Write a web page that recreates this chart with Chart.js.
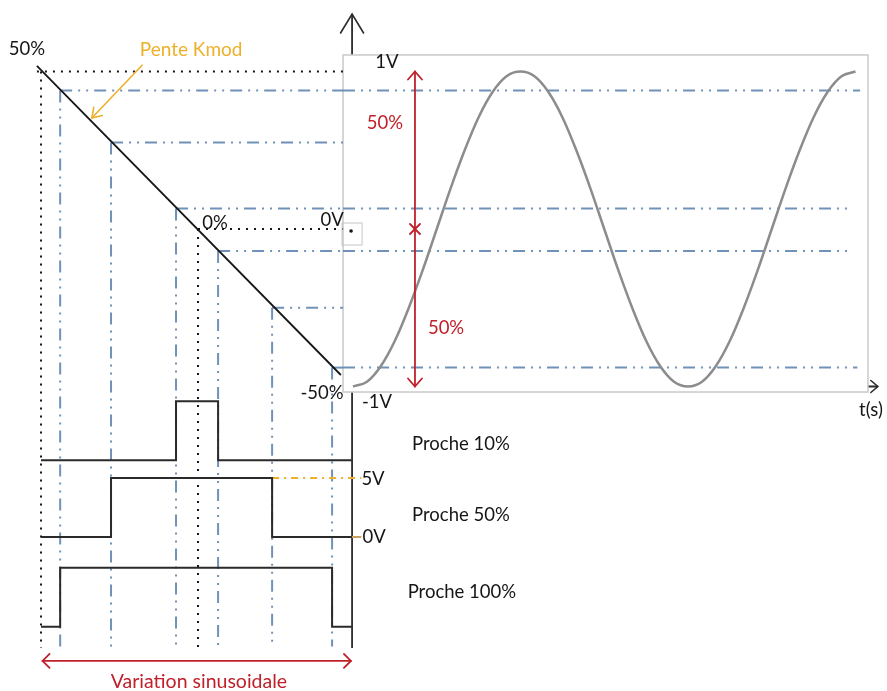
<!DOCTYPE html>
<html lang="fr">
<head>
<meta charset="UTF-8">
<title>MLI : rampe Kmod et variation sinusoïdale</title>
<script src="https://cdn.jsdelivr.net/npm/chart.js@4"></script>
<style>
  html, body { margin: 0; padding: 0; background: #fff; }
  #wrap { width: 887px; height: 691px; }
</style>
</head>
<body>
<div id="wrap"><canvas id="schema" width="887" height="691"></canvas></div>
<script>
// ---- données lues sur le schéma ----
// rampe (pente Kmod) : extrémités en % et en V
const rampePct = [51.3, -45.5];
const rampeVolt = [1.035, -0.927];

// niveaux de comparaison (V) et intersections avec la rampe (%)
const niveaux = [0.88, 0.55, 0.13, -0.14, -0.5, -0.88];
const intersPct = [43.9, 27.7, 7.0, -6.4, -23.6, -42.7];

// sinus de référence (phase en degrés, tension en V), relevé tous les 15°
const sinusDeg = [0, 15, 30, 45, 60, 75, 90, 105, 120, 135, 150, 165, 180,
  195, 210, 225, 240, 255, 270, 285, 300, 315, 330, 345, 360,
  375, 390, 405, 420, 435, 450, 465, 480, 495, 510, 525, 540];
const sinusVolt = [-1, -0.97, -0.87, -0.71, -0.5, -0.26, 0, 0.26, 0.5, 0.71, 0.87, 0.97, 1,
  0.97, 0.87, 0.71, 0.5, 0.26, 0, -0.26, -0.5, -0.71, -0.87, -0.97, -1,
  -0.97, -0.87, -0.71, -0.5, -0.26, 0, 0.26, 0.5, 0.71, 0.87, 0.97, 1];

// signaux MLI : fronts = indices dans intersPct, niveau haut 5 V
const mliNoms = ["Proche 10%", "Proche 50%", "Proche 100%"];
const mliFronts = [[2, 3], [1, 4], [0, 5]];
const mliBas = 0, mliHaut = 5;

// ---- mise en page ----
const W = 887, H = 691;
const NOIR = '#161616', ROUGE = '#c0202a', JAUNE = '#eeb02a', GRIS = '#8c8c8c';
const BLEU = 'rgba(98,134,176,0.9)';
const TIRET_POINT = [12, 6, 2, 6, 2, 6];
const POINTS = [2, 6];
const POLICE = "Lato, 'Open Sans', sans-serif";

// calage (valeur, pixel) de chaque axe
const calK = [[50, 41], [0, 198]];      // % Kmod
const calT = [[0, 353], [360, 688]];    // phase (deg)
const calV = [[1, 71.5], [-1, 386.5]];  // tension sinus (V)
const calP = [[0, 537], [5, 478]];      // tension MLI (V)

const cadre = { deg: [-10.7, 553.4], volt: [1.105, -1.035] };
const bordCadrePct = -46.2;
const basRappel = -2.65;
const finNiveauDeg = [545, null, 534, 532, null, 542];
const mliDecalage = [6.5, 0, -7.6];
const mliDebut = 50, mliFin = -49;
const axeV = { deg: -1, haut: 1.365, bas: -2.66 };
const axeH = { volt: -1, de: -10.7, a: 564 };

const textes = [
  { t: '50%', x: ['xk', 54.5], y: ['yv', 1.14], c: NOIR },
  { t: 'Pente Kmod', x: ['xk', 2.2], y: ['yv', 1.14], c: JAUNE, s: 19 },
  { t: '0%', x: ['xk', -5.4], y: ['yv', 0.04], c: NOIR },
  { t: '0V', x: ['xk', -42.7], y: ['yv', 0.06], c: NOIR },
  { t: '-50%', x: ['xk', -39.5], y: ['yv', -1.04], c: NOIR },
  { t: '1V', x: ['xt', 36.5], y: ['yv', 1.06], c: NOIR },
  { t: '-1V', x: ['xt', 25.8], y: ['yv', -1.10], c: NOIR },
  { t: '50%', x: ['xt', 34.4], y: ['yv', 0.67], c: ROUGE },
  { t: '50%', x: ['xt', 100], y: ['yv', -0.63], c: ROUGE },
  { t: 't(s)', x: ['xt', 556.6], y: ['yv', -1.15], c: NOIR },
  { t: mliNoms[0], x: ['xt', 116], y: ['yp', 7.9], c: NOIR },
  { t: mliNoms[1], x: ['xt', 116], y: ['yp', 1.9], c: NOIR },
  { t: mliNoms[2], x: ['xt', 117], y: ['yp', -4.7], c: NOIR },
  { t: '5V', x: ['xt', 21.5], y: ['yp', 4.9], c: NOIR },
  { t: '0V', x: ['xt', 22.6], y: ['yp', 0], c: NOIR },
  { t: 'Variation sinusoidale', x: ['xk', -0.3], y: ['yp', -12.3], c: ROUGE, s: 19.5 }
];

function axe(cal, size, isY) {
  const k = (cal[1][0] - cal[0][0]) / (cal[1][1] - cal[0][1]);
  const v0 = cal[0][0] - cal[0][1] * k;
  const v1 = cal[0][0] + (size - cal[0][1]) * k;
  return {
    type: 'linear', axis: isY ? 'y' : 'x', display: false, bounds: 'data', grace: 0,
    min: Math.min(v0, v1), max: Math.max(v0, v1),
    reverse: isY ? v1 > v0 : v1 < v0
  };
}

function trace(xAxisID, yAxisID, data, style) {
  return Object.assign({
    xAxisID, yAxisID, data, showLine: true, pointRadius: 0, pointHoverRadius: 0,
    borderWidth: 2, borderColor: NOIR, fill: false, tension: 0, order: 5
  }, style);
}

const datasets = [];

// rampe Kmod
datasets.push(trace('xk', 'yv', rampePct.map((p, i) => ({ x: p, y: rampeVolt[i] })), { borderWidth: 1.8, order: 2 }));

niveaux.forEach((v, i) => {
  const p = intersPct[i];
  // niveau vers le cadre
  datasets.push(trace('xk', 'yv', [{ x: p, y: v }, { x: bordCadrePct, y: v }], { borderColor: BLEU, borderDash: TIRET_POINT, order: 4 }));
  // rappel vertical vers les signaux
  datasets.push(trace('xk', 'yv', [{ x: p, y: v }, { x: p, y: basRappel }], { borderColor: BLEU, borderDash: TIRET_POINT, order: 4 }));
  // prolongement dans le cadre du sinus
  if (finNiveauDeg[i] !== null) {
    datasets.push(trace('xt', 'yv', [{ x: cadre.deg[0], y: v }, { x: finNiveauDeg[i], y: v }], { borderColor: BLEU, borderDash: TIRET_POINT, order: 4 }));
  }
});

// pointillés 50% / 0%
const pointille = { borderDash: POINTS, borderWidth: 2, order: 3 };
datasets.push(trace('xk', 'yv', [{ x: rampePct[0], y: 1 }, { x: bordCadrePct, y: 1 }], pointille));
datasets.push(trace('xk', 'yv', [{ x: 50, y: 1 }, { x: 50, y: axeV.bas }], pointille));
datasets.push(trace('xk', 'yv', [{ x: 0, y: 0 }, { x: bordCadrePct, y: 0 }], pointille));
datasets.push(trace('xk', 'yv', [{ x: 0, y: 0 }, { x: 0, y: axeV.bas }], pointille));

// sinus
datasets.push(trace('xt', 'yv', sinusDeg.map((d, i) => ({ x: d, y: sinusVolt[i] })), {
  borderColor: GRIS, borderWidth: 2.5, cubicInterpolationMode: 'monotone', order: 1
}));

// signaux MLI
mliFronts.forEach((f, i) => {
  const o = mliDecalage[i];
  const a = intersPct[f[0]], b = intersPct[f[1]];
  datasets.push(trace('xk', 'yp', [
    { x: mliDebut, y: o + mliBas }, { x: a, y: o + mliBas }, { x: a, y: o + mliHaut },
    { x: b, y: o + mliHaut }, { x: b, y: o + mliBas }, { x: mliFin, y: o + mliBas }
  ], { borderColor: '#2a2a2a', borderWidth: 2, order: 0 }));
});
// repères 5V / 0V
datasets.push(trace('xk', 'yp', [{ x: intersPct[4], y: mliHaut }, { x: -52, y: mliHaut }], { borderColor: JAUNE, borderDash: [7, 5, 2, 5], order: 1 }));
datasets.push(trace('xk', 'yp', [{ x: mliFin, y: mliBas }, { x: -52, y: mliBas }], { borderColor: '#c8a060', order: 1 }));

function trait(ctx, x1, y1, x2, y2) {
  ctx.beginPath(); ctx.moveTo(x1, y1); ctx.lineTo(x2, y2); ctx.stroke();
}
function tete(ctx, x1, y1, x2, y2, len, demi) {
  const d = Math.hypot(x2 - x1, y2 - y1), ux = (x2 - x1) / d, uy = (y2 - y1) / d;
  ctx.beginPath();
  ctx.moveTo(x2 - ux * len - uy * demi, y2 - uy * len + ux * demi);
  ctx.lineTo(x2, y2);
  ctx.lineTo(x2 - ux * len + uy * demi, y2 - uy * len - ux * demi);
  ctx.stroke();
}

const decor = {
  id: 'decor',
  beforeDatasetsDraw(chart) {
    const { ctx } = chart;
    const s = chart.scales;
    ctx.save();
    ctx.strokeStyle = '#2b2b2b';
    ctx.lineWidth = 1.8;
    const ax = s.xt.getPixelForValue(axeV.deg);
    trait(ctx, ax, s.yv.getPixelForValue(axeV.haut), ax, s.yv.getPixelForValue(axeV.bas));
    const ay = s.yv.getPixelForValue(axeH.volt);
    trait(ctx, s.xt.getPixelForValue(axeH.de), ay, s.xt.getPixelForValue(axeH.a), ay);
    // cadre du sinus
    const x0 = s.xt.getPixelForValue(cadre.deg[0]), x1 = s.xt.getPixelForValue(cadre.deg[1]);
    const y0 = s.yv.getPixelForValue(cadre.volt[0]), y1 = s.yv.getPixelForValue(cadre.volt[1]);
    ctx.fillStyle = '#fff';
    ctx.fillRect(x0, y0, x1 - x0, y1 - y0);
    ctx.strokeStyle = '#c9c9c9';
    ctx.lineWidth = 1.5;
    ctx.strokeRect(x0, y0, x1 - x0, y1 - y0);
    ctx.restore();
  },
  afterDatasetsDraw(chart) {
    const { ctx } = chart;
    const s = chart.scales;
    ctx.save();
    ctx.lineCap = 'round';

    // têtes des axes
    ctx.strokeStyle = '#2b2b2b';
    ctx.lineWidth = 1.6;
    const ax = s.xt.getPixelForValue(axeV.deg);
    tete(ctx, ax, 100, ax, s.yv.getPixelForValue(axeV.haut), 19, 11.5);
    const ay = s.yv.getPixelForValue(axeH.volt);
    tete(ctx, 0, ay, s.xt.getPixelForValue(axeH.a), ay, 7, 6);

    // marqueur 0V
    const my = s.yv.getPixelForValue(0);
    ctx.strokeStyle = '#c4c4c4';
    ctx.lineWidth = 1;
    ctx.strokeRect(ax - 10, my - 6, 20, 22);
    ctx.fillStyle = NOIR;
    ctx.beginPath(); ctx.arc(ax - 1, my + 2, 1.8, 0, Math.PI * 2); ctx.fill();

    // flèche rouge 2 x 50%
    ctx.strokeStyle = ROUGE;
    ctx.lineWidth = 1.8;
    const rx = s.xt.getPixelForValue(66.6);
    const rh = s.yv.getPixelForValue(1), rb = s.yv.getPixelForValue(-1), r0 = s.yv.getPixelForValue(0);
    trait(ctx, rx, rh, rx, rb);
    tete(ctx, rx, rb, rx, rh, 8, 7);
    tete(ctx, rx, rh, rx, rb, 8, 7);
    trait(ctx, rx - 5, r0 - 5, rx + 5, r0 + 5);
    trait(ctx, rx - 5, r0 + 5, rx + 5, r0 - 5);

    // variation sinusoïdale
    const hy = s.yp.getPixelForValue(-10.5);
    const hg = s.xk.getPixelForValue(49.5), hd = s.xk.getPixelForValue(-48.7);
    trait(ctx, hg, hy, hd, hy);
    tete(ctx, hd, hy, hg, hy, 7, 7);
    tete(ctx, hg, hy, hd, hy, 7, 7);

    // flèche pente Kmod
    ctx.strokeStyle = JAUNE;
    ctx.lineWidth = 1.6;
    const ya = [s.xk.getPixelForValue(17.8), s.yv.getPixelForValue(1.04)];
    const yb = [s.xk.getPixelForValue(33.8), s.yv.getPixelForValue(0.705)];
    trait(ctx, ya[0], ya[1], yb[0], yb[1]);
    tete(ctx, ya[0], ya[1], yb[0], yb[1], 9, 6);

    // textes
    ctx.textAlign = 'center';
    ctx.textBaseline = 'middle';
    textes.forEach(l => {
      ctx.font = (l.s || 18.5) + 'px ' + POLICE;
      ctx.fillStyle = l.c;
      ctx.fillText(l.t, s[l.x[0]].getPixelForValue(l.x[1]), s[l.y[0]].getPixelForValue(l.y[1]));
    });
    ctx.restore();
  }
};

new Chart(document.getElementById('schema'), {
  type: 'scatter',
  data: { datasets },
  options: {
    responsive: false,
    animation: false,
    events: [],
    layout: { padding: 0 },
    plugins: { legend: { display: false }, tooltip: { enabled: false } },
    scales: {
      xk: axe(calK, W, false),
      xt: axe(calT, W, false),
      yv: axe(calV, H, true),
      yp: axe(calP, H, true)
    }
  },
  plugins: [decor]
});
</script>
</body>
</html>
